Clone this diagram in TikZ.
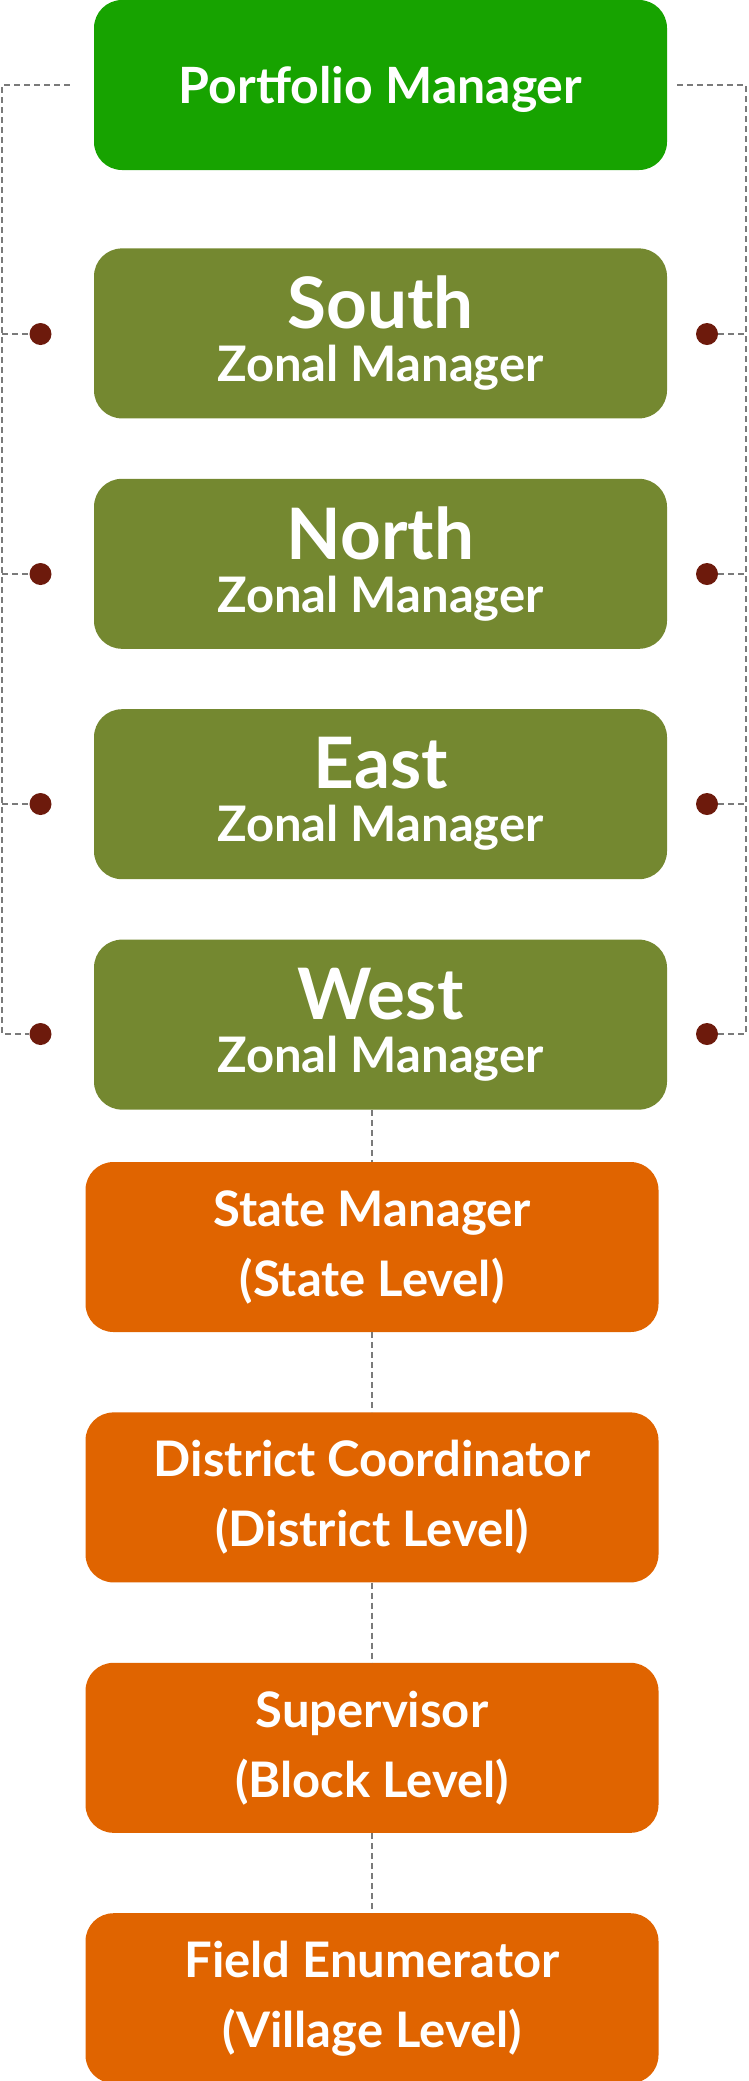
\documentclass[tikz,border=0pt]{standalone}
\usepackage{fontspec}
\setmainfont{Lato}
\usepackage{tikz}
\usetikzlibrary{positioning}

\definecolor{pmgreen}{HTML}{17A300}
\definecolor{zoneolive}{HTML}{748830}
\definecolor{levelorange}{HTML}{E06400}
\definecolor{jointred}{HTML}{6D1A0C}
\definecolor{linkgray}{HTML}{7A7A7A}

\begin{document}
\begin{tikzpicture}[x=1pt, y=1pt, node distance=60pt,
	rolebox/.style={rounded corners=28pt, minimum width=573pt, minimum height=170pt, inner sep=0pt, text=white, align=center, font=\bfseries\fontsize{49}{53}\selectfont},
	zonebox/.style={rolebox, fill=zoneolive},
	levelbox/.style={rolebox, fill=levelorange, font=\bfseries\fontsize{49}{70}\selectfont},
	joint/.style={circle, fill=jointred, minimum size=22pt, inner sep=0pt},
	dashlink/.style={draw=linkgray, line width=2pt, dash pattern=on 6pt off 4pt}]
					\useasboundingbox (0,0) rectangle (748,-2081);

					\node[rolebox, fill=pmgreen, text depth=0pt, font=\bfseries\fontsize{50}{60}\selectfont] (pm) at (380.5,-85) {Portfolio Manager};
					\node[zonebox, below=78pt of pm] (south) {{\fontsize{71}{53}\selectfont South}\\Zonal Manager};
					\node[zonebox, below=of south] (north) {{\fontsize{71}{53}\selectfont North}\\Zonal Manager};
					\node[zonebox, below=of north] (east) {{\fontsize{71}{53}\selectfont East}\\Zonal Manager};
					\node[zonebox, below=of east] (west) {{\fontsize{71}{53}\selectfont West}\\Zonal Manager};

					\node[levelbox, below=52pt of west, xshift=-8.5pt] (state) {State Manager\\(State Level)};
					\node[levelbox, below=80pt of state] (district) {District Coordinator\\(District Level)};
					\node[levelbox, below=80pt of district] (supervisor) {Supervisor\\(Block Level)};
					\node[levelbox, below=80pt of supervisor] (field) {Field Enumerator\\(Village Level)};

					\node[joint] (southL) at (40.5,-334) {};
					\node[joint] (northL) at (40.5,-574) {};
					\node[joint] (eastL) at (40.5,-804) {};
					\node[joint] (westL) at (40.5,-1034) {};
					\node[joint] (southR) at (707,-334) {};
					\node[joint] (northR) at (707,-574) {};
					\node[joint] (eastR) at (707,-804) {};
					\node[joint] (westR) at (707,-1034) {};

					\coordinate (railL) at (2,-85);
					\coordinate (railR) at (746,-85);

					% side rails
					\path[dashlink] ([xshift=-24pt]pm.west) -- (railL) |- (westL);
					\path[dashlink] ([xshift=10pt]pm.east) -- (railR) |- (westR);
					\path[dashlink]
						(southL -| railL) edge (southL)
						(northL -| railL) edge (northL)
						(eastL -| railL) edge (eastL)
						(southR) edge (southR -| railR)
						(northR) edge (northR -| railR)
						(eastR) edge (eastR -| railR)
					;

					% levels
					\path[dashlink]
						(state.north |- west.south) edge (state.north)
						(state.south) edge (district.north)
						(district.south) edge (supervisor.north)
						(supervisor.south) edge (field.north)
					;
				\end{tikzpicture}
\end{document}
